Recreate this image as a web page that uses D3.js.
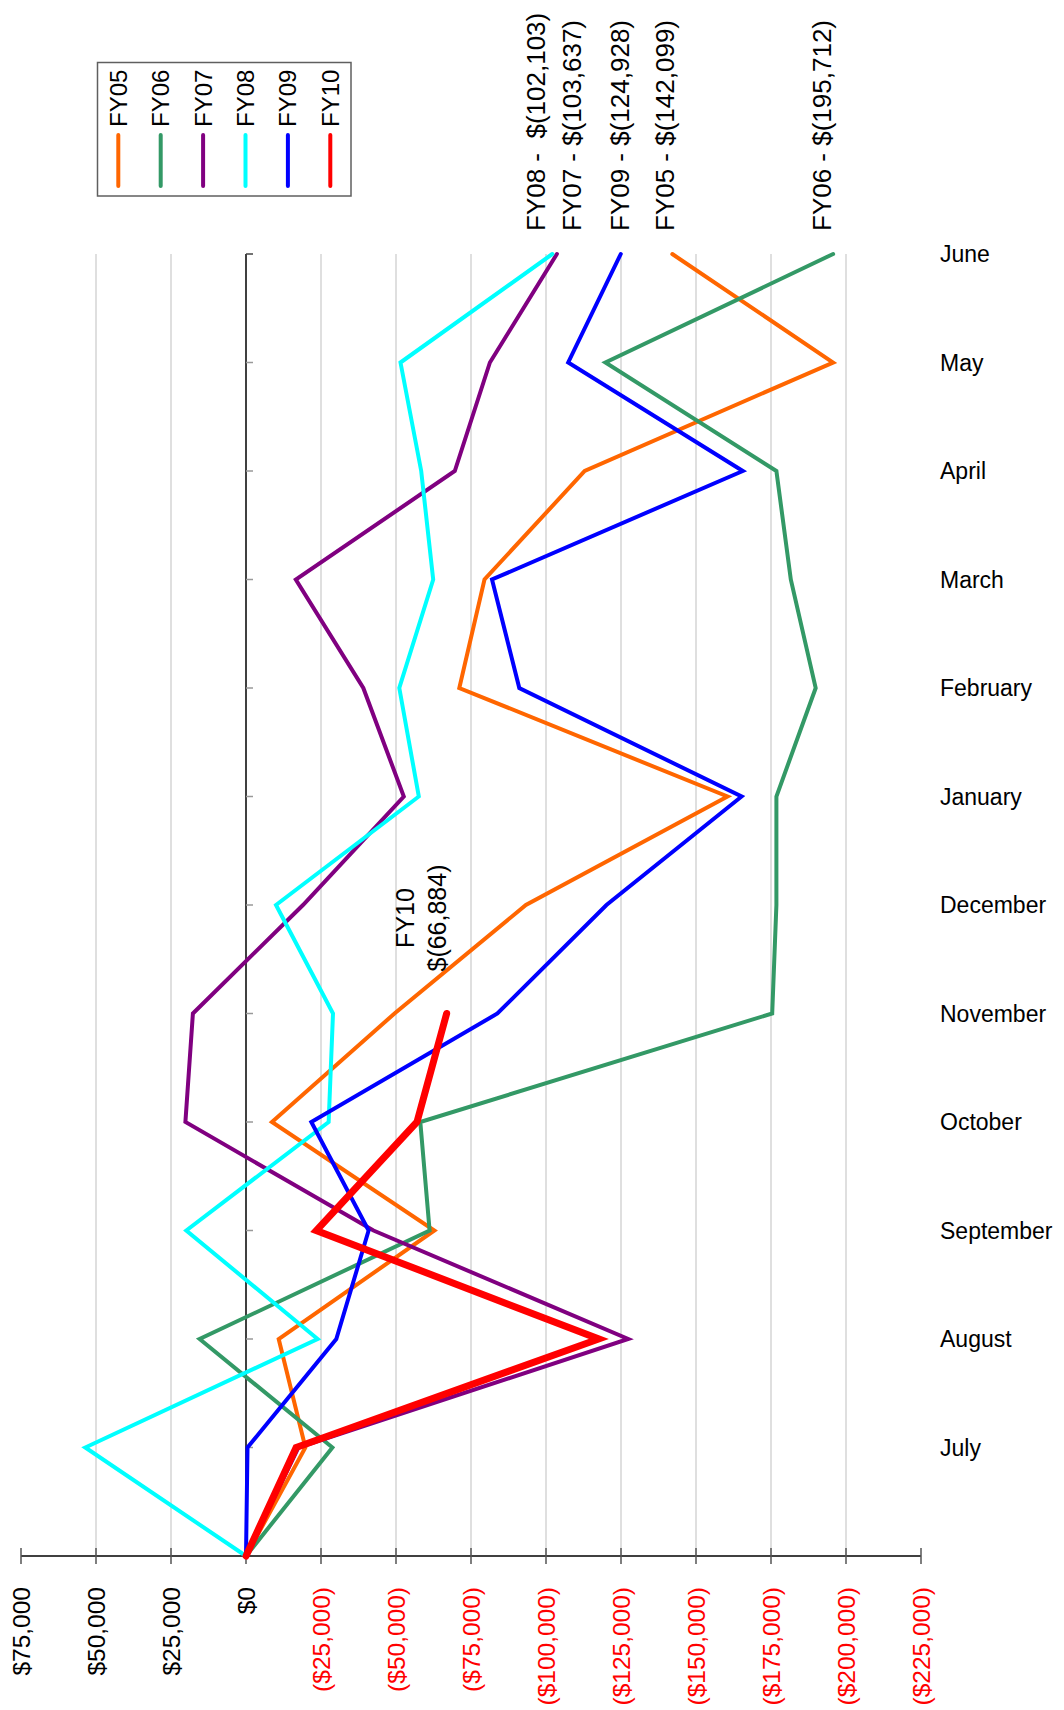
<!DOCTYPE html>
<html>
<head>
<meta charset="utf-8">
<script src="https://cdn.jsdelivr.net/npm/d3@7"></script>
<style>
  html, body { margin: 0; padding: 0; background: #fff; }
  svg { display: block; font-family: "Liberation Sans", Arial, sans-serif; }
  .pre { white-space: pre; }
</style>
</head>
<body>
<svg id="chart" width="1064" height="1710"></svg>
<script>
// Months from bottom (start of year) to top
const months = ['', 'July', 'August', 'September', 'October', 'November', 'December',
  'January', 'February', 'March', 'April', 'May', 'June'];

// Cumulative values by month (negative = loss)
const fy05 = [0, -19800, -10900, -62800, -8650, -49500, -93300, -160500, -71100, -79500, -112900, -195700, -142099];
const fy06 = [0, -28800, 15460, -61200, -58100, -175400, -176800, -176800, -189900, -181600, -176800, -119800, -195712];
const fy07 = [0, -17500, -127400, -42500, 20200, 17700, -19000, -52600, -39100, -16600, -69600, -81300, -103637];
const fy08 = [0, 53570, -23870, 19900, -27550, -29000, -10000, -57600, -51100, -62400, -58400, -51500, -102103];
const fy09 = [0, -500, -30100, -40870, -21770, -83800, -120150, -165200, -91100, -82000, -165600, -107400, -124928];
const fy10 = [0, -16700, -117600, -23430, -57000, -66884];

const seriesNames = ['FY05', 'FY06', 'FY07', 'FY08', 'FY09', 'FY10'];
const seriesValues = [fy05, fy06, fy07, fy08, fy09, fy10];
const seriesColors = ['#ff6600', '#339966', '#800080', '#00ffff', '#0000ff', '#ff0000'];

const tickValues = [75000, 50000, 25000, 0, -25000, -50000, -75000, -100000,
  -125000, -150000, -175000, -200000, -225000];

// Year-end labels at the top
const endLabels = ['FY08 -  $(102,103)', 'FY07 - $(103,637)', 'FY09 - $(124,928)',
  'FY05 - $(142,099)', 'FY06 - $(195,712)'];
const endLabelX = [536, 572, 620, 665, 822];

const svg = d3.select('#chart');

const plot = { left: 21, right: 921, top: 254, bottom: 1556 };

const xScale = d3.scaleLinear()
  .domain([75000, -225000])
  .range([plot.left, plot.right]);

const yScale = d3.scaleLinear()
  .domain([0, months.length - 1])
  .range([plot.bottom, plot.top]);

// Gridlines (not at edges or at $0)
svg.append('g')
  .attr('class', 'grid')
  .selectAll('line')
  .data(tickValues.filter(d => d !== 0 && d !== 75000 && d !== -225000))
  .join('line')
  .attr('x1', d => xScale(d))
  .attr('x2', d => xScale(d))
  .attr('y1', plot.top)
  .attr('y2', plot.bottom)
  .style('stroke', '#d4d4d4')
  .style('stroke-width', 1.5);

// Category axis at $0
const zeroX = xScale(0);
svg.append('line')
  .attr('x1', zeroX).attr('x2', zeroX)
  .attr('y1', plot.top).attr('y2', plot.bottom)
  .style('stroke', '#000')
  .style('stroke-width', 1.5);

svg.append('g')
  .selectAll('line')
  .data(d3.range(1, months.length))
  .join('line')
  .attr('x1', zeroX)
  .attr('x2', zeroX + 7)
  .attr('y1', d => yScale(d))
  .attr('y2', d => yScale(d))
  .style('stroke', d => d === months.length - 1 ? '#444' : '#999')
  .style('stroke-width', 1.5);

// Month labels
svg.append('g')
  .selectAll('text')
  .data(months.slice(1))
  .join('text')
  .attr('x', 940)
  .attr('y', (d, i) => yScale(i + 1))
  .attr('dy', '0.35em')
  .style('font-size', '23px')
  .style('fill', '#000')
  .text(d => d);

// Value axis along bottom
svg.append('line')
  .attr('x1', plot.left).attr('x2', plot.right)
  .attr('y1', plot.bottom).attr('y2', plot.bottom)
  .style('stroke', '#000')
  .style('stroke-width', 1.5);

svg.append('g')
  .selectAll('line')
  .data(tickValues)
  .join('line')
  .attr('x1', d => xScale(d))
  .attr('x2', d => xScale(d))
  .attr('y1', plot.bottom - 8)
  .attr('y2', plot.bottom + 8)
  .style('stroke', '#555')
  .style('stroke-width', 1.5);

const fmt = d3.format(',');
const tickLabel = d => d === 0 ? '$0' : (d > 0 ? `$${fmt(d)}` : `($${fmt(-d)})`);

svg.append('g')
  .selectAll('text')
  .data(tickValues)
  .join('text')
  .attr('transform', d => `translate(${xScale(d)}, 1587) rotate(-90)`)
  .attr('text-anchor', 'end')
  .attr('dy', '0.35em')
  .style('font-size', '24.5px')
  .style('fill', d => d < 0 ? '#ff0000' : '#000')
  .text(tickLabel);

// Series lines
const line = d3.line()
  .x(d => xScale(d))
  .y((d, i) => yScale(i));

svg.append('g')
  .selectAll('path')
  .data(seriesValues)
  .join('path')
  .attr('d', d => line(d))
  .style('fill', 'none')
  .style('stroke', (d, i) => seriesColors[i])
  .style('stroke-width', (d, i) => i === 5 ? 7 : 4)
  .style('stroke-linejoin', 'miter')
  .style('stroke-linecap', 'round');

// Year-end labels
svg.append('g')
  .selectAll('text')
  .data(endLabels)
  .join('text')
  .attr('class', 'pre')
  .attr('transform', (d, i) => `translate(${endLabelX[i]}, 231) rotate(-90)`)
  .attr('dy', '0.35em')
  .style('font-size', '26px')
  .style('fill', '#000')
  .text(d => d);

// FY10 current label
const fy10Label = svg.append('text')
  .attr('transform', 'translate(0, 918) rotate(-90)')
  .attr('text-anchor', 'middle')
  .style('font-size', '25px')
  .style('fill', '#000');
fy10Label.append('tspan').attr('x', 0).attr('y', 405).attr('dy', '0.35em').text('FY10');
fy10Label.append('tspan').attr('x', 0).attr('y', 437).attr('dy', '0.35em').text(`$(${fmt(-fy10[fy10.length - 1])})`);

// Legend
const legend = svg.append('g').attr('class', 'legend');
legend.append('rect')
  .attr('x', 97.5).attr('y', 62.5)
  .attr('width', 253.5).attr('height', 133.5)
  .style('fill', '#fff')
  .style('stroke', '#5f5f5f')
  .style('stroke-width', 1.5);

const entries = legend.selectAll('g.entry')
  .data(seriesNames)
  .join('g')
  .attr('class', 'entry')
  .attr('transform', (d, i) => `translate(${118.3 + i * 42.4}, 0)`);

entries.append('text')
  .attr('transform', 'translate(0, 127) rotate(-90)')
  .attr('dy', '0.35em')
  .style('font-size', '24px')
  .style('fill', '#000')
  .text(d => d);

entries.append('line')
  .attr('x1', 0).attr('x2', 0)
  .attr('y1', 135).attr('y2', 186)
  .style('stroke', (d, i) => seriesColors[i])
  .style('stroke-width', 4)
  .style('stroke-linecap', 'round');
</script>
</body>
</html>
